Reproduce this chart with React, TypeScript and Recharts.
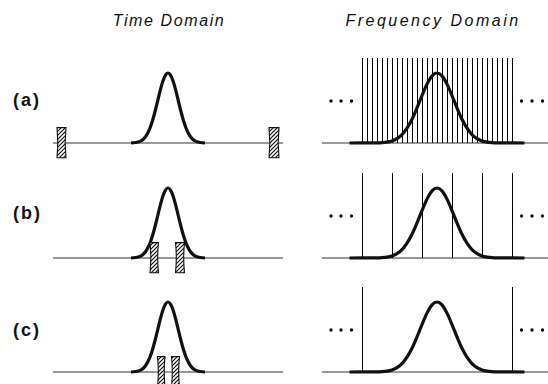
import { ComposedChart, Line, XAxis, YAxis, ReferenceLine, ReferenceArea, ReferenceDot } from "recharts";

// time pulse (units of 5px on a -23..23 axis), amplitude normalised to the peak
const pulseT = [-7.4, -6.5, -6, -5.5, -5, -4.5, -4, -3.5, -3, -2.5, -2, -1.5, -1, -0.5, 0, 0.5, 1, 1.5, 2, 2.5, 3, 3.5, 4, 4.5, 5, 5.5, 6, 6.5, 7.4];
const pulseA = [0, 0.007, 0.014, 0.027, 0.051, 0.09, 0.149, 0.233, 0.343, 0.475, 0.621, 0.765, 0.888, 0.971, 1, 0.971, 0.888, 0.765, 0.621, 0.475, 0.343, 0.233, 0.149, 0.09, 0.051, 0.027, 0.014, 0.007, 0];

// spectrum envelope
const specF = [-17.5, -12, -11, -10, -9, -8, -7, -6, -5, -4, -3, -2, -1, 0, 1, 2, 3, 4, 5, 6, 7, 8, 9, 10, 11, 12, 17.5];
const specA = [0, 0.002, 0.005, 0.013, 0.03, 0.063, 0.12, 0.211, 0.339, 0.501, 0.678, 0.841, 0.958, 1, 0.958, 0.841, 0.678, 0.501, 0.339, 0.211, 0.12, 0.063, 0.03, 0.013, 0.005, 0.002, 0];

// sampling comb positions
const combA = [-15, -14, -13, -12, -11, -10, -9, -8, -7, -6, -5, -4, -3, -2, -1, 0, 1, 2, 3, 4, 5, 6, 7, 8, 9, 10, 11, 12, 13, 14, 15];
const combB = [-15, -9, -3, 3, 9, 15];
const combC = [-15, 15];
const combTop = 1.21;

// time-domain windows [start, end]
const gatesA = [[-22.2, -20.4], [20.2, 22.2]];
const gatesB = [[-3.6, -1.9], [1.5, 3.3]];
const gatesC = [[-2.1, -0.6], [0.7, 2.3]];
const gateY = [-0.21, 0.22];

// "..." markers
const dotsX = [-21.2, -19.2, -17.1, 16.9, 19.0, 21.1];
const dotsY = 0.6;

const rowLabels = ["(a)", "(b)", "(c)"];

const pulseData = pulseT.map((t, i) => ({ x: t, y: pulseA[i] }));
const specData = specF.map((f, i) => ({ x: f, y: specA[i] }));

const rows = [
  { label: rowLabels[0], comb: combA, gates: gatesA, base: 143 },
  { label: rowLabels[1], comb: combB, gates: gatesB, base: 258 },
  { label: rowLabels[2], comb: combC, gates: gatesC, base: 372 }
];

const W = 230;
const H = 112;

const hatchShape = (pid: string) => (props: any) => {
  const { x, y, width, height } = props;
  const d = 1.6;
  const p = `M${x},${y} L${x + width},${y} Q${x + width - d},${y + height / 2} ${x + width},${y + height} L${x},${y + height} Q${x + d},${y + height / 2} ${x},${y} Z`;
  return (
    <g>
      <path d={p} fill="#fff" />
      <path d={p} fill={`url(#${pid})`} stroke="#111" strokeWidth={1.1} />
    </g>
  );
};

interface PanelProps {
  id: string;
  data: { x: number; y: number }[];
  left: number;
  top: number;
  comb?: number[];
  gates?: number[][];
  dots?: boolean;
}

const Panel = ({ id, data, left, top, comb, gates, dots }: PanelProps) => (
  <div style={{ position: "absolute", left, top }}>
    <ComposedChart width={W} height={H} data={data} margin={{ top: 0, right: 0, bottom: 0, left: 0 }}>
      <defs>
        <pattern id={id} patternUnits="userSpaceOnUse" width={4} height={4}>
          <path d="M-1,1 l2,-2 M0,4 l4,-4 M3,5 l2,-2" stroke="#111" strokeWidth={1.2} />
        </pattern>
      </defs>
      <XAxis type="number" dataKey="x" domain={[-23, 23]} hide allowDataOverflow />
      <YAxis type="number" dataKey="y" domain={[-0.3, 1.3]} hide allowDataOverflow />
      <ReferenceLine y={0} stroke="#333" strokeWidth={1} />
      {comb &&
        comb.map((f) => (
          <ReferenceLine
            key={f}
            segment={[{ x: f, y: 0 }, { x: f, y: combTop }]}
            stroke="#000"
            strokeWidth={1}
            shapeRendering="crispEdges"
          />
        ))}
      <Line
        type="monotone"
        dataKey="y"
        stroke="#111"
        strokeWidth={3.2}
        dot={false}
        isAnimationActive={false}
      />
      {gates &&
        gates.map((g, i) => (
          <ReferenceArea key={i} x1={g[0]} x2={g[1]} y1={gateY[0]} y2={gateY[1]} shape={hatchShape(id)} zIndex={1000} />
        ))}
      {dots &&
        dotsX.map((x) => <ReferenceDot key={x} x={x} y={dotsY} r={1.7} fill="#111" stroke="none" />)}
    </ComposedChart>
  </div>
);

export default function App() {
  return (
    <div
      style={{
        position: "absolute",
        left: 0,
        top: 0,
        width: 548,
        height: 384,
        overflow: "hidden",
        background: "#fff",
        fontFamily: "'Liberation Sans', Arial, sans-serif",
        color: "#111"
      }}
    >
      <div style={{ position: "absolute", left: 69, width: 200, top: 12, textAlign: "center", fontSize: 16, fontStyle: "italic", letterSpacing: 1.6, lineHeight: "17px" }}>
        Time Domain
      </div>
      <div style={{ position: "absolute", left: 333, width: 200, top: 12, textAlign: "center", fontSize: 16, fontStyle: "italic", letterSpacing: 2.5, lineHeight: "17px" }}>
        Frequency Domain
      </div>
      {rows.map((r, i) => (
        <div key={r.label}>
          <div style={{ position: "absolute", left: 13, top: [100, 213, 330][i] - 11, fontSize: 18, fontWeight: "bold", letterSpacing: 2, lineHeight: "22px" }}>
            {r.label}
          </div>
          <Panel id={`hatch${i}`} data={pulseData} left={53} top={r.base - 91} gates={r.gates} />
          <Panel id={`comb${i}`} data={specData} left={322} top={r.base - 91} comb={r.comb} dots />
        </div>
      ))}
    </div>
  );
}
